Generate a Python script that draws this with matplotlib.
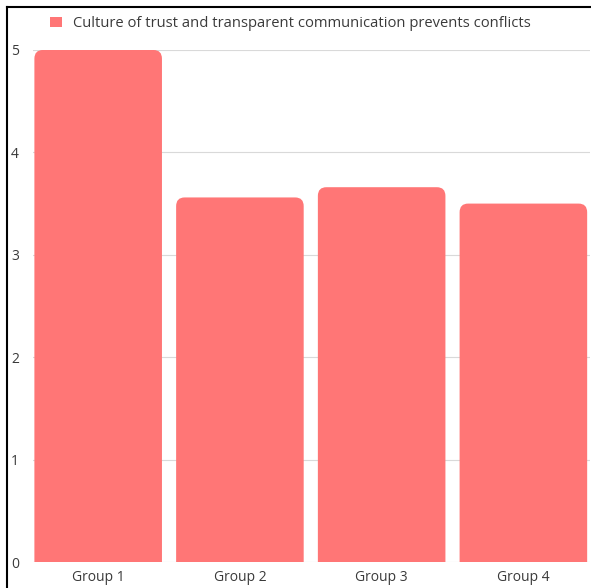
import matplotlib
matplotlib.use("Agg")
import matplotlib.pyplot as plt
from matplotlib.patches import PathPatch
from matplotlib.path import Path
from matplotlib.lines import Line2D

groups = ["Group 1", "Group 2", "Group 3", "Group 4"]
scores = [5.0, 3.56, 3.66, 3.50]
series_name = "Culture of trust and transparent communication prevents conflicts"
yticks = [0, 1, 2, 3, 4, 5]

bar_color = "#FF7676"
text_color = "#3a3a3a"

plt.rcParams['font.family'] = ['Open Sans', 'DejaVu Sans']


def top_rounded_bar(x0, w, h, rx, ry):
    # bar with only the two top corners rounded
    verts = [(x0, 0), (x0, h - ry), (x0, h), (x0 + rx, h),
             (x0 + w - rx, h), (x0 + w, h), (x0 + w, h - ry),
             (x0 + w, 0), (x0, 0)]
    codes = [Path.MOVETO, Path.LINETO, Path.CURVE3, Path.CURVE3,
             Path.LINETO, Path.CURVE3, Path.CURVE3,
             Path.LINETO, Path.CLOSEPOLY]
    return Path(verts, codes)


fig = plt.figure(figsize=(5.91, 5.88), dpi=100)
ax = fig.add_axes([0.0558, 0.0442, 0.9425, 0.8708])

width = 0.9
ax.bar([0], [0], color=bar_color, label=series_name)

rx = 0.06
ry = 0.085
for i, v in enumerate(scores):
    p = top_rounded_bar(i - width / 2, width, v, rx, ry)
    ax.add_patch(PathPatch(p, facecolor=bar_color, edgecolor="none", zorder=3))

ax.set_xlim(-0.46, 3.47)
ax.set_ylim(0, 5)
ax.set_xticks(range(len(groups)))
ax.set_xticklabels(groups)
ax.set_yticks(yticks)
ax.grid(axis="y", color="#d9d9d9", linewidth=0.8, zorder=0)
ax.set_axisbelow(True)
for s in ax.spines.values():
    s.set_visible(False)
ax.tick_params(length=0, labelsize=10, labelcolor=text_color)
ax.tick_params(axis="x", pad=6)
ax.tick_params(axis="y", pad=10)

leg = fig.legend(loc="upper left", bbox_to_anchor=(0.063, 0.995), frameon=False,
                 fontsize=10.6, handlelength=0.75, handleheight=0.75,
                 handletextpad=0.8, labelcolor=text_color)

# outer frame (left and top edges visible)
fig.add_artist(Line2D([0.012, 0.012], [0, 0.988], color="black", linewidth=1.5,
                      transform=fig.transFigure))
fig.add_artist(Line2D([0.012, 1.0], [0.988, 0.988], color="black", linewidth=1.5,
                      transform=fig.transFigure))

fig.savefig("out.png", dpi=100)
